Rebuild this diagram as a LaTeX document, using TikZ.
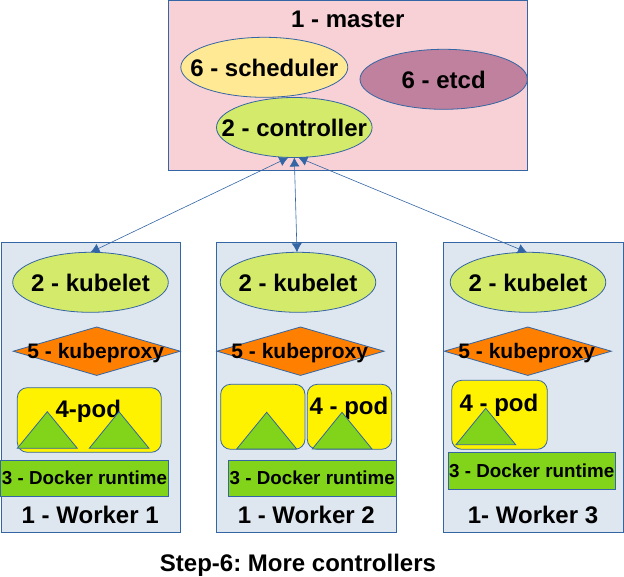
\documentclass[tikz,border=0pt]{standalone}
\usepackage{fontspec}
\setmainfont{Liberation Sans}
\usetikzlibrary{shapes,arrows.meta}
\definecolor{linecol}{HTML}{3465A4}
\definecolor{mastercol}{HTML}{F7D1D5}
\definecolor{schedcol}{HTML}{FFE994}
\definecolor{etcdcol}{HTML}{BF819E}
\definecolor{ctrlcol}{HTML}{D4EA6B}
\definecolor{workercol}{HTML}{DEE6EF}
\definecolor{proxycol}{HTML}{FF8000}
\definecolor{greencol}{HTML}{81D41A}
\frenchspacing

\begin{document}
\begin{tikzpicture}[x=1pt,y=-1pt,
    every node/.style={font=\bfseries\fontsize{24}{24}\selectfont,inner sep=0pt,outer sep=0pt,text depth=0pt,text height=18pt},
    every label/.style={text depth=0pt}]
\tikzstyle{vertex}=[draw=linecol,line width=0.8pt,ellipse,minimum width=155.6pt,minimum height=60pt]
\tikzstyle{kubelet}=[vertex,fill=ctrlcol]
\tikzstyle{kubeproxy}=[draw=linecol,line width=0.8pt,diamond,aspect=3.4,fill=proxycol,minimum width=167pt,minimum height=48.4pt]
\tikzstyle{proxytext}=[font=\bfseries\fontsize{21}{21}\selectfont,text height=15.5pt]
\tikzstyle{worker}=[draw=linecol,line width=0.8pt,rectangle,fill=workercol,minimum width=179pt,minimum height=290pt]
\tikzstyle{pod}=[draw=linecol,line width=0.8pt,rectangle,rounded corners=10pt,fill=yellow]
\tikzstyle{docker}=[draw=linecol,line width=0.8pt,rectangle,fill=greencol,minimum width=167.6pt,minimum height=36.6pt,
    font=\bfseries\fontsize{18.8}{18.8}\selectfont,text height=13.3pt]
\tikzstyle{tri}=[draw=linecol,line width=0.8pt,fill=greencol,line join=miter]
\tikzstyle{link}=[draw=linecol,line width=0.6pt,{Latex[length=9pt,width=10pt]}-{Latex[length=9pt,width=10pt]}]
\useasboundingbox (0,0) rectangle (624,577);
\node [draw=linecol,line width=0.8pt,rectangle,fill=mastercol,minimum width=359pt,minimum height=169.5pt] (master) at (347.9,85.2) {};
\node (mastertext) at (347.8,18.3) {1 - master};
\node [vertex,fill=schedcol,minimum width=167pt,label=center:{6 - scheduler}] (sched) at (264.3,67.3) {};
\node [vertex,fill=etcdcol,minimum width=167.4pt,label=center:{6 - etcd}] (etcd) at (443.7,79.3) {};
\node [vertex,fill=ctrlcol,label=center:{2 - controller}] (ctrl) at (294.3,127.5) {};

\node [worker] (wa) at (90.9,387.4) {};
\node [worker,minimum width=180pt] (wb) at (306.3,387.4) {};
\node [worker,minimum width=180pt] (wc) at (533.3,387.4) {};

\node [kubelet,label=center:{2 - kubelet}] (kuba) at (90.5,282.3) {};
\node [kubelet,label=center:{2 - kubelet}] (kubb) at (298,282.3) {};
\node [kubelet,label=center:{2 - kubelet}] (kubc) at (528,282.3) {};

\node [kubeproxy] (proxa) at (96.7,351.2) {};
\node [kubeproxy] (proxb) at (300.5,351.2) {};
\node [kubeproxy] (proxc) at (527.8,351.2) {};
\node [proxytext] (proxatext) at (95.7,350.7) {5 - kubeproxy};
\node [proxytext] (proxbtext) at (299.7,350.7) {5 - kubeproxy};
\node [proxytext] (proxctext) at (526.7,350.7) {5 - kubeproxy};

\node [pod,minimum width=144pt,minimum height=64.6pt] (poda) at (89.3,420) {};
\node [pod,minimum width=84.3pt,minimum height=65pt] (podb) at (262.8,416.8) {};
\node [pod,minimum width=84.4pt,minimum height=65pt] (podc) at (349.5,416.8) {};
\node [pod,minimum width=95.6pt,minimum height=69pt] (podd) at (499.5,414.8) {};
\node (podatext) at (88.3,408.3) {4-pod};
\node (podctext) at (349,405.8) {4 - pod};
\node (poddtext) at (499,402) {4 - pod};

\draw [tri] (17.3,448.3) -- (47.3,411.7) -- (77.3,448.3) -- cycle;
\draw [tri] (89.3,448.3) -- (119,411.7) -- (149,448.3) -- cycle;
\draw [tri] (236.7,449) -- (266.7,412.3) -- (296.7,449) -- cycle;
\draw [tri] (312.3,449) -- (342,412.3) -- (372,449) -- cycle;
\draw [tri] (456,444.7) -- (485.7,408.3) -- (515.7,444.7) -- cycle;

\node [docker] (docka) at (84.5,478.2) {3 - Docker runtime};
\node [docker] (dockb) at (312.2,478.2) {3 - Docker runtime};
\node [docker,minimum height=37pt] (dockc) at (531.7,470.8) {3 - Docker runtime};

\node (wal) at (90.2,514) {1 - Worker 1};
\node (wbl) at (306.3,514) {1 - Worker 2};
\node (wcl) at (533,514) {1- Worker 3};
\node (steptext) at (298,562.5) {Step-6: More controllers};

\path
    ([xshift=-6pt]ctrl.south) edge [link] (kuba.north)
    (ctrl.south) edge [link] ([xshift=-1pt]kubb.north)
    ([xshift=4pt]ctrl.south) edge [link] ([xshift=-1pt]kubc.north);
\end{tikzpicture}
\end{document}
